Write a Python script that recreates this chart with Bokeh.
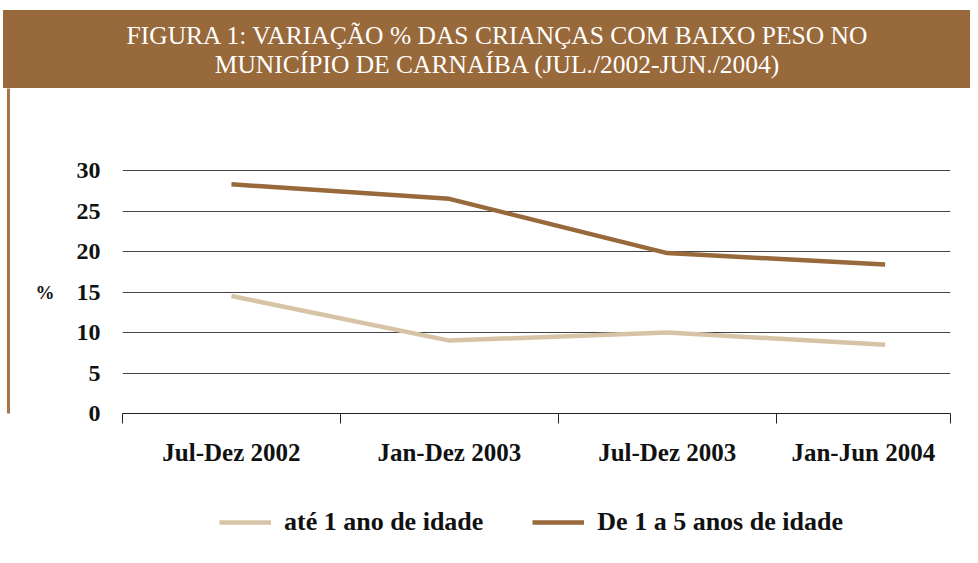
from bokeh.plotting import figure
from bokeh.models import FixedTicker, Legend, LegendItem, Range1d, LinearAxis, Div
from bokeh.layouts import column
from bokeh.embed import file_html
from bokeh.resources import INLINE

categories = ["Jul-Dez 2002", "Jan-Dez 2003", "Jul-Dez 2003", "Jan-Jun 2004"]
ate_1_ano = [14.5, 9.0, 10.0, 8.5]
de_1_a_5 = [28.3, 26.5, 19.8, 18.4]
y_ticks = [0, 5, 10, 15, 20, 25, 30]
title_lines = ["FIGURA 1: VARIAÇÃO % DAS CRIANÇAS COM BAIXO PESO NO",
               "MUNICÍPIO DE CARNAÍBA (JUL./2002-JUN./2004)"]
series_names = ["até 1 ano de idade", "De 1 a 5 anos de idade"]
unit_label = "%"

BROWN = "#98693A"
LIGHT = "#D7C4A6"
EDGE = "#A47745"
FONT = "Liberation Serif"
TXT = "#111111"

TOTAL_W = 970
LEG_H = 77

# ---------- header band with title (HTML block) ----------
head = Div(text='<div style="padding-top:11px;padding-left:21px;line-height:29px;">'
                + "<br>".join(title_lines) + "</div>",
           width=TOTAL_W - 3, height=78, margin=(10, 0, 0, 3),
           styles={"background-color": BROWN, "color": "white",
                   "font-family": FONT, "font-size": "25.5px", "text-align": "center"})

# ---------- main chart ----------
xs = [i + 0.5 for i in range(len(categories))]
XMAX = 3.8
bounds = [0, 1, 2, 3, XMAX]
label_pos = [(a + b) / 2 for a, b in zip(bounds[:-1], bounds[1:])]
PX_PER_UNIT = (413 - 170) / 30.0
FRAME_H = 413 - 88
YMAX = FRAME_H / PX_PER_UNIT

p = figure(frame_width=950 - 122, frame_height=FRAME_H,
           output_backend="svg", toolbar_location=None,
           x_range=Range1d(0, XMAX), y_range=Range1d(0, YMAX),
           min_border_left=122, min_border_right=TOTAL_W - 950,
           min_border_top=0, min_border_bottom=65)
p.outline_line_color = None
p.background_fill_color = "white"
p.border_fill_color = "white"

r1 = p.line(xs, ate_1_ano, line_color=LIGHT, line_width=4.5)
r2 = p.line(xs, de_1_a_5, line_color=BROWN, line_width=4.5)

xa = p.xaxis[0]
xa.ticker = FixedTicker(ticks=label_pos, minor_ticks=bounds)
xa.major_label_overrides = {x: c for x, c in zip(label_pos, categories)}
xa.major_tick_line_color = None
xa.major_tick_out = 0
xa.major_tick_in = 0
xa.minor_tick_out = 10
xa.minor_tick_in = 0
xa.minor_tick_line_color = "#222222"
xa.axis_line_color = "#222222"
xa.major_label_standoff = 15
xa.major_label_text_font = FONT
xa.major_label_text_font_style = "bold"
xa.major_label_text_font_size = "25px"
xa.major_label_text_color = TXT

ya = p.yaxis[0]
ya.ticker = FixedTicker(ticks=y_ticks)
ya.axis_line_color = None
ya.major_tick_line_color = None
ya.minor_tick_line_color = None
ya.major_tick_out = 0
ya.major_label_standoff = 22
ya.major_label_text_font = FONT
ya.major_label_text_font_style = "bold"
ya.major_label_text_font_size = "24px"
ya.major_label_text_color = TXT

# "%" unit label as an outer axis with one labelled tick at 15
pct = LinearAxis(ticker=FixedTicker(ticks=[15]),
                 major_label_overrides={15: unit_label},
                 axis_line_color=None, major_tick_line_color=None,
                 minor_tick_line_color=None, major_tick_out=0,
                 major_label_standoff=19, major_label_text_font=FONT,
                 major_label_text_font_style="bold",
                 major_label_text_font_size="19px", major_label_text_color=TXT,
                 axis_label="\u00a0", axis_label_standoff=10,
                 axis_label_text_font_size="10px")
p.add_layout(pct, "left")

# left border line of the box
edge = LinearAxis(ticker=FixedTicker(ticks=[]), axis_line_color=EDGE,
                  axis_line_width=3, major_tick_line_color=None,
                  minor_tick_line_color=None, major_tick_out=0, major_tick_in=0,
                  major_label_text_font_size="0px", major_label_standoff=0)
p.add_layout(edge, "left")

p.xgrid.grid_line_color = None
p.ygrid.ticker = FixedTicker(ticks=y_ticks[1:])
p.ygrid.grid_line_color = "#444444"
p.ygrid.grid_line_width = 1

# ---------- legend strip ----------
leg = figure(width=TOTAL_W, height=LEG_H, output_backend="svg", toolbar_location=None,
             x_range=Range1d(0, TOTAL_W), y_range=Range1d(LEG_H, 0),
             x_axis_type=None, y_axis_type=None,
             min_border_left=122, min_border_right=TOTAL_W - 950,
             min_border_top=0, min_border_bottom=0)
leg.outline_line_color = None
leg.background_fill_color = "white"
leg.border_fill_color = "white"
k1 = leg.line(x=[-100, -90], y=[-100, -100], line_color=LIGHT, line_width=4.5)
k2 = leg.line(x=[-100, -90], y=[-100, -100], line_color=BROWN, line_width=4.5)
legend = Legend(items=[LegendItem(label=series_names[0], renderers=[k1]),
                       LegendItem(label=series_names[1], renderers=[k2])],
                orientation="horizontal", location=(219 - 122, LEG_H - 44 - 15),
                glyph_width=52, glyph_height=26, label_standoff=13, spacing=49,
                padding=0, margin=0, border_line_color=None, background_fill_alpha=0,
                label_text_font=FONT, label_text_font_style="bold",
                label_text_font_size="26px", label_text_color=TXT,
                label_height=26)
leg.add_layout(legend, "center")

layout = column(head, p, leg, spacing=0)
open("out.html", "w").write(file_html(layout, INLINE))
